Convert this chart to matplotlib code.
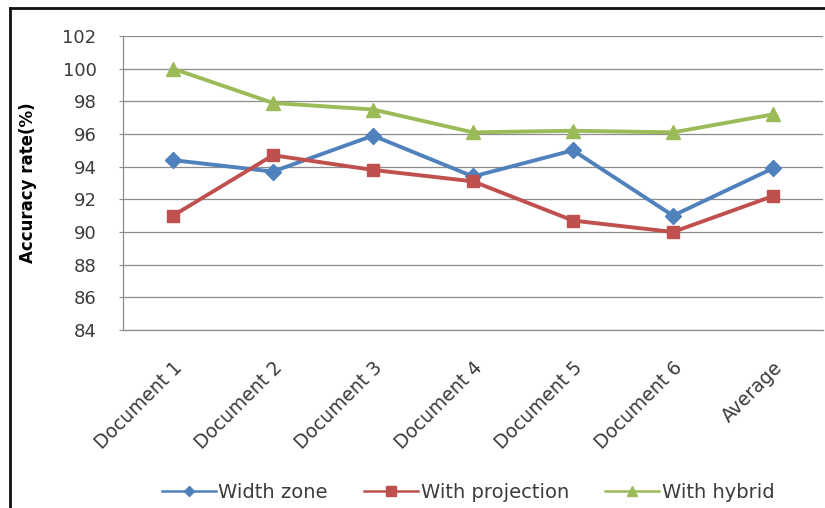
import matplotlib.pyplot as plt
from matplotlib.lines import Line2D
import matplotlib.transforms as mtransforms

# categories and series
categories = ['Document 1', 'Document 2', 'Document 3', 'Document 4',
              'Document 5', 'Document 6', 'Average']
width_zone = [94.4, 93.7, 95.9, 93.4, 95.0, 91.0, 93.9]
with_projection = [91.0, 94.7, 93.8, 93.1, 90.7, 90.0, 92.2]
with_hybrid = [100.0, 97.9, 97.5, 96.1, 96.2, 96.1, 97.2]
y_ticks = [84, 86, 88, 90, 92, 94, 96, 98, 100, 102]

blue = '#4F81BD'
red = '#C0504D'
green = '#9BBB59'
text_grey = '#3c3c3c'
grid_grey = '#8c8c8c'

W, H = 825, 508
fig = plt.figure(figsize=(W / 100, H / 100), dpi=100)
ax = fig.add_axes([123 / W, 1 - 330 / H, 700 / W, 294 / H])

x = range(len(categories))
ax.plot(x, width_zone, color=blue, lw=2.8, marker='D', ms=8, zorder=3)
ax.plot(x, with_projection, color=red, lw=2.8, marker='s', ms=9, zorder=3)
ax.plot(x, with_hybrid, color=green, lw=2.8, marker='^', ms=10, zorder=3)

ax.set_xlim(-0.5, len(categories) - 0.5)
ax.set_ylim(84, 102)
ax.set_yticks(y_ticks)
ax.set_xticks(list(x))
ax.set_xticklabels(categories, rotation=45, ha='right', rotation_mode='anchor',
                   fontsize=13.5, color=text_grey)
for lab in ax.get_xticklabels():
    lab.set_transform(lab.get_transform() +
                      mtransforms.ScaledTranslation(3 / 100, 0, fig.dpi_scale_trans))
ax.tick_params(axis='x', length=0, pad=20)
ax.tick_params(axis='y', length=3, color=grid_grey, labelsize=13,
               labelcolor=text_grey, pad=16)

ax.grid(axis='y', color=grid_grey, lw=0.9)
ax.set_axisbelow(True)
for side in ['top', 'right']:
    ax.spines[side].set_visible(False)
for side in ['left', 'bottom']:
    ax.spines[side].set_color(grid_grey)
    ax.spines[side].set_linewidth(0.9)

fig.text(28 / W, 1 - 183 / H, 'Accuracy rate(%)', rotation=90, ha='center',
         va='center', fontsize=12, fontweight='bold', color='black')

handles = [
    Line2D([], [], color=blue, lw=1.8, marker='D', ms=5),
    Line2D([], [], color=red, lw=1.8, marker='s', ms=7),
    Line2D([], [], color=green, lw=1.8, marker='^', ms=7),
]
fig.legend(handles, ['Width zone', 'With projection', 'With hybrid'],
           loc='center', bbox_to_anchor=(468 / W, 1 - 492 / H), ncol=3,
           frameon=False, fontsize=14, labelcolor=text_grey,
           handlelength=2.8, handletextpad=0.12, columnspacing=1.85)

# outer frame (left and top edges visible in the reference)
fig.add_artist(Line2D([10 / W, 10 / W], [0, 1 - 7.5 / H], color='#111111',
                      lw=2, transform=fig.transFigure))
fig.add_artist(Line2D([10 / W, 1], [1 - 7.5 / H, 1 - 7.5 / H], color='#111111',
                      lw=2, transform=fig.transFigure))

fig.savefig('out.png', dpi=100)
